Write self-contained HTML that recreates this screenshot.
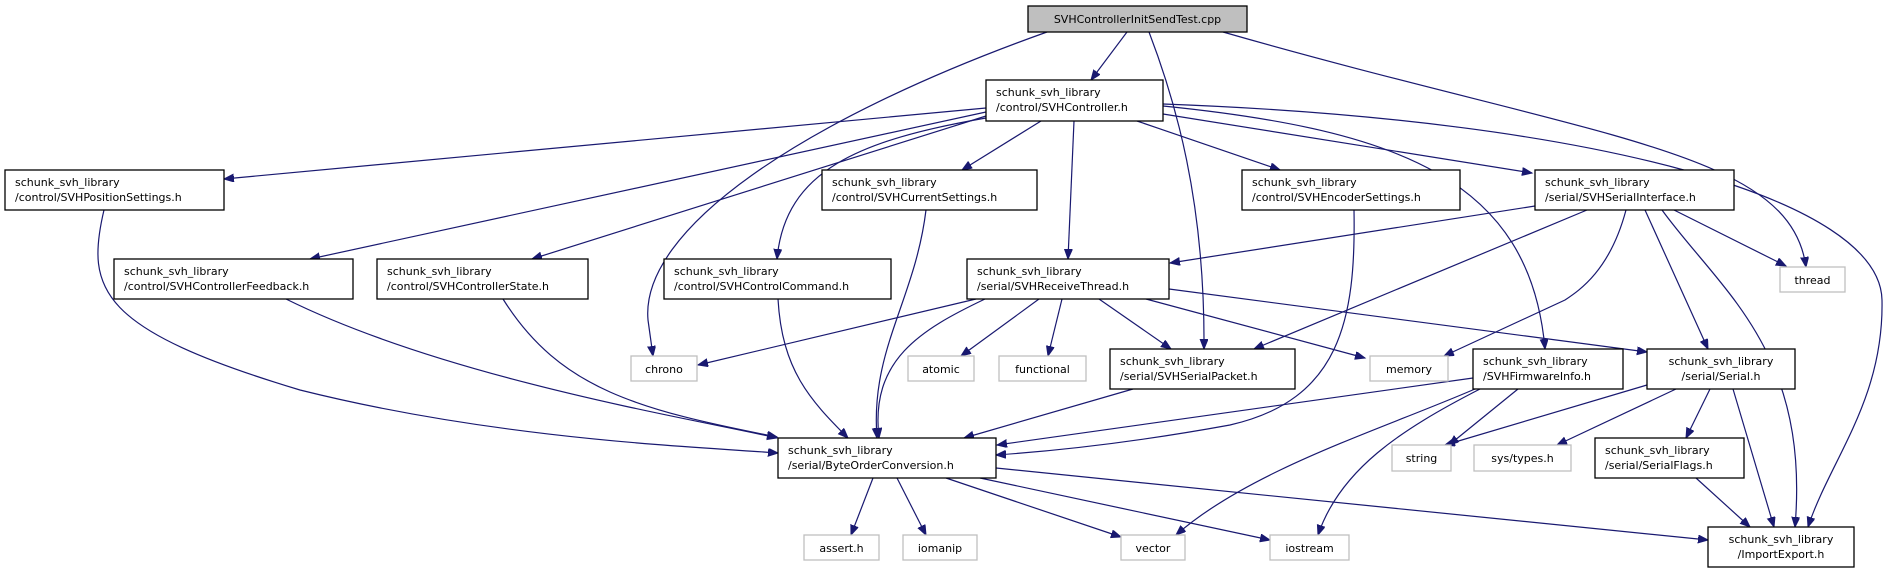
<!DOCTYPE html>
<html><head><meta charset="utf-8"><style>
html,body{margin:0;padding:0;background:#fff;}
svg{display:block;}
text{font-family:"DejaVu Sans","Liberation Sans",sans-serif;font-size:11px;fill:#000;}
.e{fill:none;stroke:#191970;stroke-width:1.2;}
.n{fill:#fff;stroke:#000;stroke-width:1.3;}
.g{fill:#fff;stroke:#bfbfbf;stroke-width:1.3;}
</style></head><body>
<svg width="1888" height="573" viewBox="0 0 1888 573" xmlns="http://www.w3.org/2000/svg">
<defs>
<marker id="a" markerUnits="userSpaceOnUse" markerWidth="12" markerHeight="10" refX="10" refY="4" orient="auto">
<path d="M0,0 L10,4 L0,8 Z" fill="#191970" stroke="#191970"/>
</marker>
</defs>
<g marker-end="url(#a)">
<path class="e" d="M1127,32 L1091,80"/>
<path class="e" d="M1047,32 C800,120 640,230 648,320 L653,356"/>
<path class="e" d="M1149,32 C1175,100 1205,200 1204,349"/>
<path class="e" d="M1223,32 C1600,140 1790,150 1806,267"/>
<path class="e" d="M986,108 L224,179"/>
<path class="e" d="M986,112 L310,259"/>
<path class="e" d="M986,116 L532,259"/>
<path class="e" d="M986,118 C860,140 785,170 777,259"/>
<path class="e" d="M1041,121 L962,170"/>
<path class="e" d="M1074,121 L1068,259"/>
<path class="e" d="M1137,121 L1280,170"/>
<path class="e" d="M1163,114 L1532,173"/>
<path class="e" d="M1163,106 C1400,130 1530,180 1545,349"/>
<path class="e" d="M1163,104 C1600,120 1880,200 1882,300 C1884,400 1830,460 1808,527"/>
<path class="e" d="M1354,210 C1356,320 1340,400 1230,425 C1120,445 1040,452 996,455"/>
<path class="e" d="M1535,206 L1170,263"/>
<path class="e" d="M1587,210 L1254,349"/>
<path class="e" d="M1626,210 C1610,270 1580,290 1565,300 L1444,356"/>
<path class="e" d="M1645,210 L1708,349"/>
<path class="e" d="M1674,210 L1786,266"/>
<path class="e" d="M1662,210 C1720,290 1810,350 1795,527"/>
<path class="e" d="M976,299 L698,365"/>
<path class="e" d="M985,299 C920,330 870,360 879,438"/>
<path class="e" d="M1039,299 L961,356"/>
<path class="e" d="M1062,299 L1048,356"/>
<path class="e" d="M1099,299 L1171,349"/>
<path class="e" d="M1146,299 L1365,358"/>
<path class="e" d="M1169,289 L1647,352"/>
<path class="e" d="M104,210 C85,290 100,330 300,390 C500,440 700,447 778,453"/>
<path class="e" d="M286,299 C450,380 700,420 777,438"/>
<path class="e" d="M503,299 C560,390 640,410 777,437"/>
<path class="e" d="M778,299 C782,370 810,400 848,438"/>
<path class="e" d="M926,210 C915,300 870,350 877,438"/>
<path class="e" d="M1133,389 L964,438"/>
<path class="e" d="M1473,378 L997,445"/>
<path class="e" d="M1518,389 L1449,445"/>
<path class="e" d="M1475,389 C1380,430 1250,470 1176,535"/>
<path class="e" d="M1480,389 C1400,430 1340,470 1318,535"/>
<path class="e" d="M1647,385 L1445,445"/>
<path class="e" d="M1676,389 L1557,445"/>
<path class="e" d="M1710,389 L1686,438"/>
<path class="e" d="M1733,389 L1774,527"/>
<path class="e" d="M1696,478 L1750,527"/>
<path class="e" d="M873,478 L851,535"/>
<path class="e" d="M897,478 L926,535"/>
<path class="e" d="M946,478 L1121,537"/>
<path class="e" d="M980,478 L1270,540"/>
<path class="e" d="M996,468 L1708,540"/>
</g>

<rect x="1028" y="6" width="219" height="26" fill="#bfbfbf" stroke="#000" stroke-width="1.3"/>
<text x="1137.5" y="23" text-anchor="middle">SVHControllerInitSendTest.cpp</text>

<rect class="n" x="986" y="80" width="177" height="41"/>
<text x="996" y="96">schunk_svh_library</text><text x="996" y="111">/control/SVHController.h</text>

<rect class="n" x="5" y="170" width="219" height="40"/>
<text x="15" y="186">schunk_svh_library</text><text x="15" y="201">/control/SVHPositionSettings.h</text>

<rect class="n" x="822" y="170" width="215" height="40"/>
<text x="832" y="186">schunk_svh_library</text><text x="832" y="201">/control/SVHCurrentSettings.h</text>

<rect class="n" x="1242" y="170" width="218" height="40"/>
<text x="1252" y="186">schunk_svh_library</text><text x="1252" y="201">/control/SVHEncoderSettings.h</text>

<rect class="n" x="1535" y="170" width="199" height="40"/>
<text x="1545" y="186">schunk_svh_library</text><text x="1545" y="201">/serial/SVHSerialInterface.h</text>

<rect class="g" x="1780" y="267" width="65" height="25"/>
<text x="1812.5" y="284" text-anchor="middle" fill="#000">thread</text>

<rect class="n" x="114" y="259" width="239" height="40"/>
<text x="124" y="275">schunk_svh_library</text><text x="124" y="290">/control/SVHControllerFeedback.h</text>

<rect class="n" x="377" y="259" width="211" height="40"/>
<text x="387" y="275">schunk_svh_library</text><text x="387" y="290">/control/SVHControllerState.h</text>

<rect class="n" x="664" y="259" width="227" height="40"/>
<text x="674" y="275">schunk_svh_library</text><text x="674" y="290">/control/SVHControlCommand.h</text>

<rect class="n" x="967" y="259" width="202" height="40"/>
<text x="977" y="275">schunk_svh_library</text><text x="977" y="290">/serial/SVHReceiveThread.h</text>

<rect class="g" x="631" y="356" width="66" height="25"/>
<text x="664" y="373" text-anchor="middle">chrono</text>
<rect class="g" x="908" y="356" width="66" height="25"/>
<text x="941" y="373" text-anchor="middle">atomic</text>
<rect class="g" x="999" y="356" width="87" height="25"/>
<text x="1042.5" y="373" text-anchor="middle">functional</text>
<rect class="g" x="1370" y="356" width="78" height="25"/>
<text x="1409" y="373" text-anchor="middle">memory</text>

<rect class="n" x="1110" y="349" width="185" height="40"/>
<text x="1120" y="365">schunk_svh_library</text><text x="1120" y="380">/serial/SVHSerialPacket.h</text>

<rect class="n" x="1473" y="349" width="150" height="40"/>
<text x="1483" y="365">schunk_svh_library</text><text x="1483" y="380">/SVHFirmwareInfo.h</text>

<rect class="n" x="1647" y="349" width="148" height="40"/>
<text x="1721" y="365" text-anchor="middle">schunk_svh_library</text><text x="1721" y="380" text-anchor="middle">/serial/Serial.h</text>

<rect class="n" x="778" y="438" width="218" height="40"/>
<text x="788" y="454">schunk_svh_library</text><text x="788" y="469">/serial/ByteOrderConversion.h</text>

<rect class="g" x="1392" y="445" width="59" height="26"/>
<text x="1421.5" y="462" text-anchor="middle">string</text>
<rect class="g" x="1474" y="445" width="97" height="26"/>
<text x="1522.5" y="462" text-anchor="middle">sys/types.h</text>

<rect class="n" x="1595" y="438" width="149" height="40"/>
<text x="1605" y="454">schunk_svh_library</text><text x="1605" y="469">/serial/SerialFlags.h</text>

<rect class="g" x="804" y="535" width="75" height="25"/>
<text x="841.5" y="552" text-anchor="middle">assert.h</text>
<rect class="g" x="903" y="535" width="74" height="25"/>
<text x="940" y="552" text-anchor="middle">iomanip</text>
<rect class="g" x="1121" y="535" width="64" height="25"/>
<text x="1153" y="552" text-anchor="middle">vector</text>
<rect class="g" x="1270" y="535" width="79" height="25"/>
<text x="1309.5" y="552" text-anchor="middle">iostream</text>

<rect class="n" x="1708" y="527" width="146" height="40"/>
<text x="1781" y="543" text-anchor="middle">schunk_svh_library</text><text x="1781" y="558" text-anchor="middle">/ImportExport.h</text>
</svg>
</body></html>
